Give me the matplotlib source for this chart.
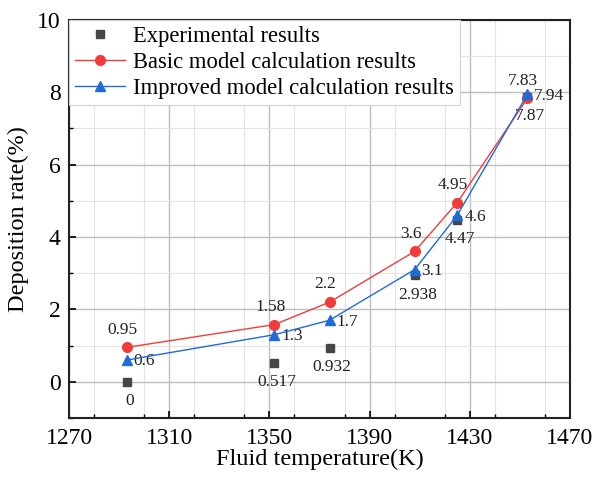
import matplotlib
matplotlib.use("Agg")
import matplotlib.pyplot as plt
from matplotlib.ticker import MultipleLocator

plt.rcParams['font.family'] = ['Liberation Serif', 'DejaVu Serif']
plt.rcParams['mathtext.fontset'] = 'stix'

temperature = [1293, 1352, 1374, 1408, 1425, 1453]
experimental = [0, 0.517, 0.932, 2.938, 4.47, 7.87]
basic_model = [0.95, 1.58, 2.2, 3.6, 4.95, 7.83]
improved_model = [0.6, 1.3, 1.7, 3.1, 4.6, 7.94]

exp_labels = ["0", "0.517", "0.932", "2.938", "4.47", "7.87"]
basic_labels = ["0.95", "1.58", "2.2", "3.6", "4.95", "7.83"]
improved_labels = ["0.6", "1.3", "1.7", "3.1", "4.6", "7.94"]

x_ticks = [1270, 1310, 1350, 1390, 1430, 1470]
y_ticks = [0, 2, 4, 6, 8, 10]

RED = '#F23B3B'
BLUE = '#1F6BD8'
GRAY = '#464646'

fig = plt.figure(figsize=(6.05, 4.8), dpi=100)
ax = fig.add_axes([69/605, 1-418/480, 501/605, (418-19.7)/480])

ax.plot(temperature, experimental, linestyle='none', marker='s', color=GRAY,
        markersize=5.5, label='Experimental results', zorder=3)
ax.plot(temperature, basic_model, color=RED, lw=1.0, marker='o', markersize=7,
        label='Basic model calculation results', zorder=4)
ax.plot(temperature, improved_model, color=BLUE, lw=1.0, marker='^', markersize=7.5,
        label='Improved model calculation results', zorder=5)

fs = 12.5
for x, y, t in zip(temperature, experimental, exp_labels):
    ax.annotate(t, (x, y), xytext=(2, -8), textcoords='offset points',
                ha='center', va='top', fontsize=fs, color='#222222')
for x, y, t in zip(temperature, basic_model, basic_labels):
    ax.annotate(t, (x, y), xytext=(-3, 7), textcoords='offset points',
                ha='center', va='bottom', fontsize=fs, color='#222222')
for x, y, t in zip(temperature, improved_model, improved_labels):
    ax.annotate(t, (x, y), xytext=(5, -1), textcoords='offset points',
                ha='left', va='center', fontsize=fs, color='#222222')

ax.set_xlim(1270, 1470)
ax.set_ylim(-1, 10)
ax.set_xticks(x_ticks)
ax.set_yticks(y_ticks)
ax.xaxis.set_minor_locator(MultipleLocator(20))
ax.yaxis.set_minor_locator(MultipleLocator(1))
ax.tick_params(which='major', direction='in', length=5, width=1.2, labelsize=17)
ax.tick_params(which='minor', direction='in', length=3, width=1.0)
ax.tick_params(axis='x', pad=7)
ax.tick_params(axis='y', pad=6)
ax.grid(which='major', color='#BDBDBD', lw=1.0)
ax.grid(which='minor', color='#E3E3E3', lw=0.8)
ax.set_axisbelow(True)
for s in ax.spines.values():
    s.set_linewidth(1.5)
    s.set_color('#222222')

ax.set_xlabel('Fluid temperature(K)', fontsize=17.5, labelpad=0)
ax.set_ylabel('Deposition rate(%)', fontsize=17.5, labelpad=6)

leg = ax.legend(loc='upper left', fontsize=16.3, frameon=True, fancybox=False,
                edgecolor='#D0D0D0', framealpha=1.0, borderaxespad=0.0,
                handlelength=2.2, labelspacing=0.22, borderpad=0.28,
                handletextpad=0.35)
leg.get_frame().set_linewidth(0.8)

fig.savefig('out.png', dpi=100)
